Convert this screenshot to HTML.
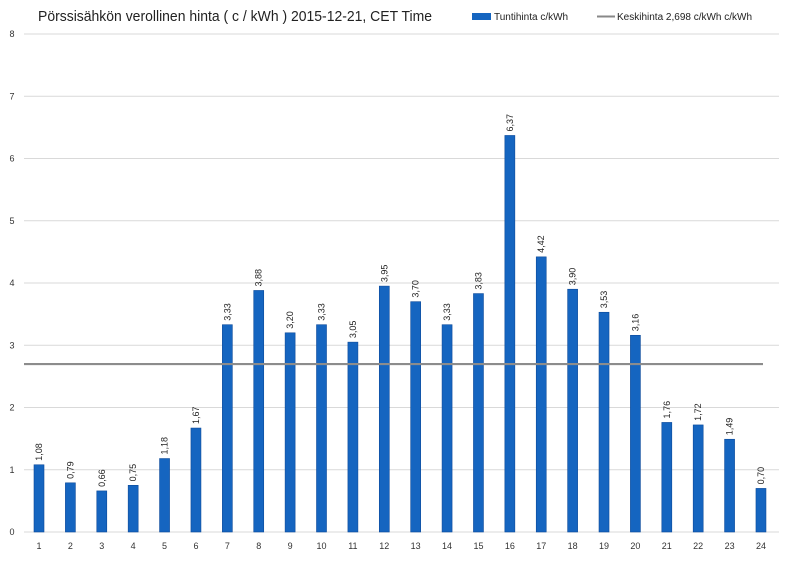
<!DOCTYPE html>
<html><head><meta charset="utf-8"><style>
html,body{margin:0;padding:0;background:#fff;}
svg{display:block;font-family:"Liberation Sans",sans-serif;}
</style></head><body>
<svg id="c" width="800" height="566" viewBox="0 0 800 566" xmlns="http://www.w3.org/2000/svg">
<rect width="800" height="566" fill="#fff"/>
<text x="38" y="21" font-size="15" fill="#222" textLength="394" lengthAdjust="spacingAndGlyphs">Pörssisähkön verollinen hinta ( c / kWh ) 2015-12-21, CET Time</text>
<rect x="472" y="13" width="19" height="7" fill="#1565c0"/>
<text x="494" y="20" font-size="10" fill="#222">Tuntihinta c/kWh</text>
<line x1="597" y1="16.5" x2="615" y2="16.5" stroke="#888" stroke-width="2"/>
<text x="617" y="20" font-size="10" fill="#222">Keskihinta 2,698 c/kWh c/kWh</text>
<g id="g"></g>
</svg>
<script>
var vals=[1.08,0.79,0.66,0.75,1.18,1.67,3.33,3.88,3.20,3.33,3.05,3.95,3.70,3.33,3.83,6.37,4.42,3.90,3.53,3.16,1.76,1.72,1.49,0.70];
var g=document.getElementById('g'),s='';
function Y(v){return 532-v*62.25;}
for(var i=0;i<=8;i++){var y=Y(i);
 if(i>0)s+='<line x1="24" y1="'+y+'" x2="779" y2="'+y+'" stroke="#d9d9d9" stroke-width="1"/>';
 s+='<text x="12" y="'+(y+3)+'" font-size="9" text-anchor="middle" fill="#333">'+i+'</text>';}
s+='<line x1="24" y1="532" x2="779" y2="532" stroke="#d9d9d9" stroke-width="1"/>';
for(var i=0;i<24;i++){var cx=39+i*31.39,v=vals[i],y=Y(v);
 s+='<rect x="'+(cx-5)+'" y="'+y+'" width="10" height="'+(532-y)+'" fill="#1565c0" stroke="#0d4a9a" stroke-width="0.6"/>';
 s+='<text x="'+(cx+3)+'" y="'+(y-4)+'" font-size="9" fill="#222" transform="rotate(-90 '+(cx+3)+' '+(y-4)+')">'+v.toFixed(2).replace('.',',')+'</text>';
 s+='<text x="'+cx+'" y="549" font-size="9" text-anchor="middle" fill="#333">'+(i+1)+'</text>';}
var ay=Y(2.698);
s+='<line x1="24" y1="'+ay+'" x2="763" y2="'+ay+'" stroke="#8c8c8c" stroke-width="2.2"/>';
g.innerHTML=s;
</script>
</body></html>
